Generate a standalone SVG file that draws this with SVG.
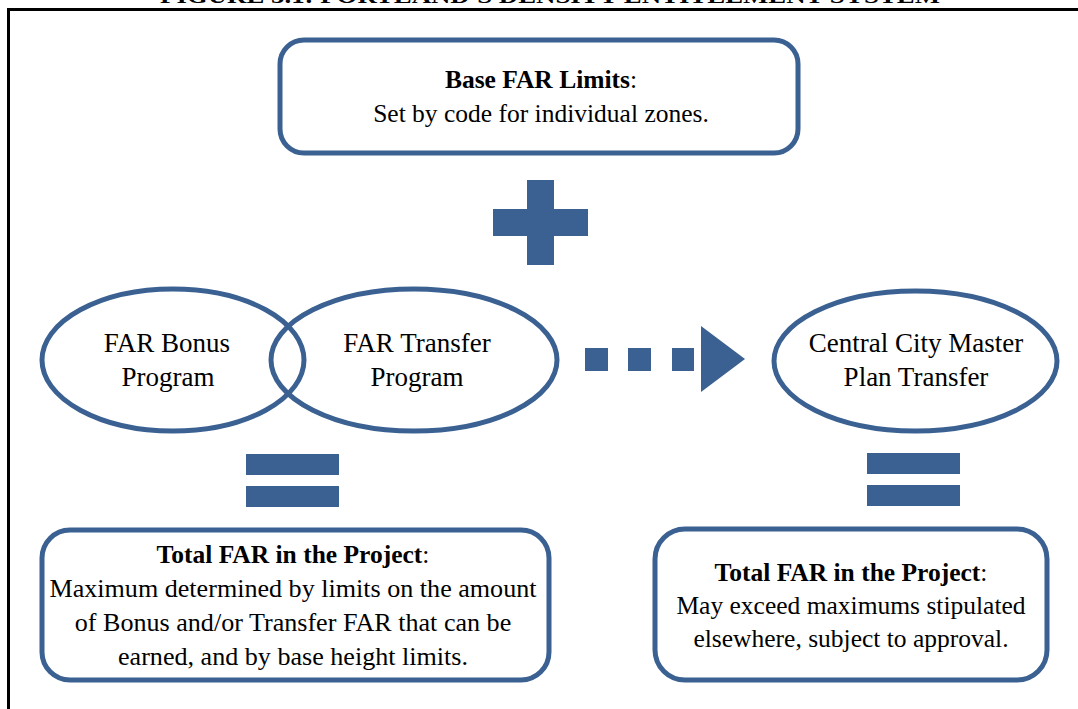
<svg xmlns="http://www.w3.org/2000/svg" width="1078" height="709" viewBox="0 0 1078 709">
<style>
.box{fill:#fff;stroke:#3A6191;stroke-width:5}
.ring{fill:none;stroke:#3A6191;stroke-width:5}
.sym{fill:#3A6191}
.t{font-family:"Liberation Serif","Times New Roman",serif;font-size:25.5px;fill:#000;text-anchor:middle}
.e{font-size:27px}
.m{font-size:26.1px}
.b{font-weight:bold}
.title{font-family:"Liberation Serif","Times New Roman",serif;font-size:22px;font-weight:bold;fill:#000}
</style>
<rect width="1078" height="709" fill="#fff"/>
<text class="title" x="160" y="3" textLength="780" lengthAdjust="spacingAndGlyphs">FIGURE 5.1: PORTLAND'S DENSITY ENTITLEMENT SYSTEM</text>
<g id="frame">
<line x1="7" y1="9.5" x2="1078" y2="9.5" stroke="#000" stroke-width="3"/>
<line x1="8.5" y1="8" x2="8.5" y2="709" stroke="#000" stroke-width="3"/>
</g>
<g id="base-far">
<rect class="box" x="280" y="40" width="518" height="113" rx="24"/>
<text class="t b" x="541" y="88">Base FAR Limits<tspan font-weight="normal">:</tspan></text>
<text class="t" x="541" y="122">Set by code for individual zones.</text>
</g>
<g id="plus">
<rect class="sym" x="527" y="180" width="27" height="85"/>
<rect class="sym" x="493" y="209" width="95" height="27"/>
</g>
<g id="far-bonus">
<ellipse class="ring" cx="173" cy="360" rx="131" ry="71"/>
<text class="t e" x="167" y="352">FAR Bonus</text>
<text class="t e" x="168" y="386">Program</text>
</g>
<g id="far-transfer">
<ellipse class="ring" cx="414" cy="360" rx="143" ry="71"/>
<text class="t e" x="417" y="352">FAR Transfer</text>
<text class="t e" x="417" y="386">Program</text>
</g>
<g id="connectors">
<rect class="sym" x="585" y="348" width="23" height="23"/>
<rect class="sym" x="628" y="348" width="23" height="23"/>
<rect class="sym" x="672" y="348" width="22" height="23"/>
<polygon class="sym" points="701,326 745,359 701,392"/>
</g>
<g id="central-city">
<ellipse class="box" cx="915.5" cy="361" rx="141.5" ry="70"/>
<text class="t e" x="916" y="352">Central City Master</text>
<text class="t e" x="916" y="386">Plan Transfer</text>
</g>
<g id="equals-left">
<rect class="sym" x="246" y="454" width="93" height="21"/>
<rect class="sym" x="246" y="486" width="93" height="21"/>
</g>
<g id="equals-right">
<rect class="sym" x="867" y="453" width="93" height="21"/>
<rect class="sym" x="867" y="485" width="93" height="21"/>
</g>
<g id="total-left">
<rect class="box" x="42" y="530" width="507" height="150" rx="28"/>
<text class="t b" x="293" y="563">Total FAR in the Project<tspan font-weight="normal">:</tspan></text>
<text class="t m" x="293" y="597">Maximum determined by limits on the amount</text>
<text class="t m" x="293" y="631">of Bonus and/or Transfer FAR that can be</text>
<text class="t m" x="293" y="665">earned, and by base height limits.</text>
</g>
<g id="total-right">
<rect class="box" x="655" y="529" width="392" height="151" rx="30"/>
<text class="t b" x="851" y="581">Total FAR in the Project<tspan font-weight="normal">:</tspan></text>
<text class="t" x="851" y="614">May exceed maximums stipulated</text>
<text class="t" x="851" y="647">elsewhere, subject to approval.</text>
</g>
</svg>
